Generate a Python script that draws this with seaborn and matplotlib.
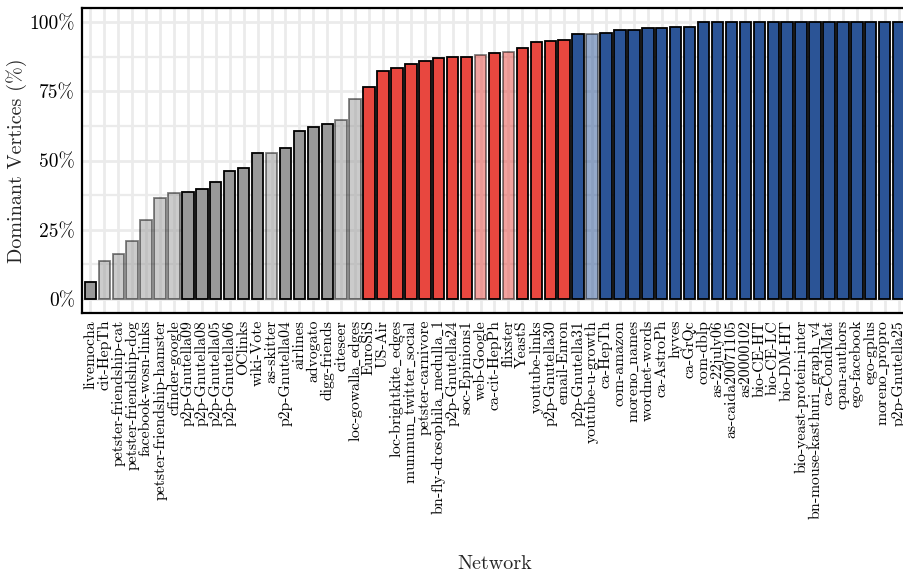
import numpy as np
import pandas as pd
import matplotlib
matplotlib.use("Agg")
import matplotlib.pyplot as plt
import seaborn as sns

networks = [
    "livemocha", "cit-HepTh", "petster-friendship-cat", "petster-friendship-dog",
    "facebook-wosn-links", "petster-friendship-hamster", "cfinder-google",
    "p2p-Gnutella09", "p2p-Gnutella08", "p2p-Gnutella05", "p2p-Gnutella06",
    "OClinks", "wiki-Vote", "as-skitter", "p2p-Gnutella04", "airlines",
    "advogato", "digg-friends", "citeseer", "loc-gowalla_edges", "EuroSiS",
    "US-Air", "loc-brightkite_edges", "munmun_twitter_social", "petster-carnivore",
    "bn-fly-drosophila_medulla_1", "p2p-Gnutella24", "soc-Epinions1", "web-Google",
    "ca-cit-HepPh", "flixster", "YeastS", "youtube-links", "p2p-Gnutella30",
    "email-Enron", "p2p-Gnutella31", "youtube-u-growth", "ca-HepTh", "com-amazon",
    "moreno_names", "wordnet-words", "ca-AstroPh", "hyves", "ca-GrQc", "com-dblp",
    "as-22july06", "as-caida20071105", "as20000102", "bio-CE-HT", "bio-CE-LC",
    "bio-DM-HT", "bio-yeast-protein-inter", "bn-mouse-kasthuri_graph_v4",
    "ca-CondMat", "cpan-authors", "ego-facebook", "ego-gplus", "moreno_propro",
    "p2p-Gnutella25",
]

dominant_pct = [
    6.2, 13.7, 16.1, 20.9, 28.7, 36.6, 38.3, 38.7, 39.7, 42.3, 46.1, 47.3, 52.6,
    52.8, 54.5, 60.7, 62.0, 63.1, 64.6, 72.2, 76.4, 82.2, 83.5, 84.7, 86.0, 86.9,
    87.4, 87.5, 87.9, 88.9, 89.2, 90.5, 92.9, 93.2, 93.5, 95.7, 95.8, 96.0, 96.9,
    97.2, 97.7, 97.9, 98.1, 98.3, 100.0, 100.0, 100.0, 100.0, 100.0, 100.0, 100.0,
    100.0, 100.0, 100.0, 100.0, 100.0, 100.0, 100.0, 100.0,
]

tier = (["low"] * 20) + (["mid"] * 15) + (["high"] * 24)

faded_networks = [
    "cit-HepTh", "petster-friendship-cat", "petster-friendship-dog",
    "facebook-wosn-links", "petster-friendship-hamster", "cfinder-google",
    "as-skitter", "citeseer", "loc-gowalla_edges", "web-Google", "flixster",
    "youtube-u-growth",
]

tier_colors = {"low": "#999999", "mid": "#E8473F", "high": "#2B5496"}
y_ticks = [0, 25, 50, 75, 100]
y_tick_labels = ["0%", "25%", "50%", "75%", "100%"]
y_minor = [12.5, 37.5, 62.5, 87.5]

df = pd.DataFrame({"network": networks, "pct": dominant_pct, "tier": tier})

sns.set_style("white")
plt.rcParams["font.family"] = ["cmr10", "DejaVu Serif"]
plt.rcParams["mathtext.fontset"] = "cm"
plt.rcParams["axes.unicode_minus"] = False
plt.rcParams["axes.formatter.use_mathtext"] = True

fig = plt.figure(figsize=(9.04, 5.74), dpi=100)
W, H = 904, 574
ax = fig.add_axes([82 / W, 1 - 313 / H, (907 - 82) / W, (313 - 8) / H])

sns.barplot(
    data=df, x="network", y="pct", hue="tier", order=networks,
    hue_order=["low", "mid", "high"], palette=tier_colors, dodge=False,
    width=0.82, saturation=1, edgecolor="black", linewidth=1.3,
    legend=False, ax=ax, zorder=3,
)

for p in ax.patches:
    idx = int(round(p.get_x() + p.get_width() / 2))
    if 0 <= idx < len(networks) and networks[idx] in faded_networks:
        p.set_alpha(0.5)

ax.set_xlim(-0.6, len(networks) - 0.4)
ax.set_ylim(-5, 105)
ax.set_yticks(y_ticks)
ax.set_yticklabels(y_tick_labels, fontsize=14)
ax.set_yticks(y_minor, minor=True)
ax.set_xticks(range(len(networks)))
# cmr10 has no underscore glyph at '_', so take it from the TeX typewriter font
shown_names = [n.replace("_", r"$\mathtt{\_}$") for n in networks]
ax.set_xticklabels(shown_names, rotation=90, fontsize=11.3, ha="center", va="top")

ax.set_axisbelow(True)
ax.grid(True, which="major", axis="both", color="#EBEBEB", linewidth=2.0, zorder=0)
ax.grid(True, which="minor", axis="y", color="#EBEBEB", linewidth=1.6, zorder=0)

for s in ["left", "bottom", "top", "right"]:
    ax.spines[s].set_color("black")
    ax.spines[s].set_linewidth(1.6)

ax.tick_params(axis="both", which="major", direction="out", length=3,
               width=1.5, color="black", labelcolor="black", pad=2)
ax.tick_params(axis="y", which="minor", length=0)

ax.set_xlabel("Network", fontsize=14.5)
ax.set_ylabel("Dominant Vertices (%)", fontsize=14.5)
ax.xaxis.set_label_coords(0.5, -0.795)
ax.yaxis.set_label_coords(-0.067, 0.5)

fig.savefig("out.png", dpi=100)
